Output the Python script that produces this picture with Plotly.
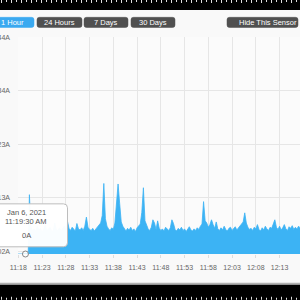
import plotly.graph_objects as go
import pandas as pd

# ---------------- data ----------------
lead_times = ["2021-01-06 11:17:50", "2021-01-06 11:18:40",
              "2021-01-06 11:19:30", "2021-01-06 11:20:05"]
lead_values = [0, 0, 0, 0]
series_start = "2021-01-06 11:20:20"
amps = [
    1.11, 0.50, 0.44, 0.47, 0.42, 0.52, 0.45, 0.48, 0.41, 0.46,
    0.55, 0.43, 0.47, 0.50, 0.44, 0.42, 0.58, 0.46, 0.44, 0.49,
    0.43, 0.47, 0.52, 0.45, 0.62, 0.48, 0.44, 0.50, 0.46, 0.43,
    0.57, 0.47, 0.45, 0.49, 0.44, 0.52, 0.69, 0.50, 0.46, 0.44,
    0.48, 0.43, 0.47, 0.51, 0.55, 0.58, 0.72, 1.32, 0.66, 0.52,
    0.47, 0.44, 0.49, 0.46, 0.58, 1.05, 1.31, 0.95, 0.60, 0.52,
    0.46, 0.43, 0.48, 0.45, 0.50, 0.44, 0.47, 0.42, 0.49, 0.52,
    0.56, 0.78, 1.24, 0.62, 0.53, 0.47, 0.44, 0.50, 0.64, 0.58,
    0.46, 0.62, 0.48, 0.44, 0.47, 0.43, 0.50, 0.46, 0.44, 0.49,
    0.64, 0.57, 0.46, 0.43, 0.48, 0.45, 0.50, 0.44, 0.47, 0.42,
    0.48, 0.51, 0.45, 0.43, 0.47, 0.44, 0.49, 0.46, 0.52, 0.56,
    0.98, 0.62, 0.58, 0.50, 0.55, 0.64, 0.55, 0.48, 0.60, 0.47,
    0.44, 0.49, 0.45, 0.52, 0.46, 0.43, 0.48, 0.50, 0.44, 0.47,
    0.51, 0.45, 0.49, 0.53, 0.56, 0.60, 0.77, 0.58, 0.50, 0.46,
    0.48, 0.44, 0.50, 0.47, 0.55, 0.46, 0.43, 0.49, 0.45, 0.52,
    0.47, 0.44, 0.50, 0.48, 0.56, 0.64, 0.50, 0.46, 0.52, 0.45,
    0.49, 0.55, 0.47, 0.44, 0.51, 0.48, 0.53, 0.46, 0.50, 0.47,
    0.52, 0.49,
]
x_tick_times = ["2021-01-06 11:18", "2021-01-06 11:23", "2021-01-06 11:28",
                "2021-01-06 11:33", "2021-01-06 11:38", "2021-01-06 11:43",
                "2021-01-06 11:48", "2021-01-06 11:53", "2021-01-06 11:58",
                "2021-01-06 12:03", "2021-01-06 12:08", "2021-01-06 12:13"]
x_tick_text = ["11:18", "11:23", "11:28", "11:33", "11:38", "11:43",
               "11:48", "11:53", "11:58", "12:03", "12:08", "12:13"]
y_tick_vals = [0.05, 1.05, 2.05, 3.05, 4.05]
y_tick_text = ["0.002A", "0.013A", "0.023A", "0.034A", "0.044A"]
buttons = ["1 Hour", "24 Hours", "7 Days", "30 Days", "Hide This Sensor"]
hover_time = "2021-01-06 11:19:30"
hover_value = 0
hover_lines = ["Jan 6, 2021", "11:19:30 AM", "0A"]

times = list(pd.to_datetime(lead_times)) + list(
    pd.date_range(series_start, periods=len(amps), freq="20s"))
values = lead_values + amps

# ---------------- geometry helpers ----------------
W, H = 300, 300
L, R, T, B = 18, 0, 37, 45.8
PW, PH = W - L - R, H - T - B
FONT = "Liberation Sans, Arial, sans-serif"
BLUE = "#3cb3f4"


def px(x, y):
    return (x - L) / PW, (H - B - y) / PH


def rrect(x0, y0, x1, y1, r):
    a0, b0 = px(x0, y0)
    a1, b1 = px(x1, y1)
    rx, ry = r / PW, r / PH
    return (f"M{a0+rx},{b0} L{a1-rx},{b0} Q{a1},{b0} {a1},{b0-ry} "
            f"L{a1},{b1+ry} Q{a1},{b1} {a1-rx},{b1} L{a0+rx},{b1} "
            f"Q{a0},{b1} {a0},{b1+ry} L{a0},{b0-ry} Q{a0},{b0} {a0+rx},{b0} Z")


def rect(x0, y0, x1, y1, color):
    a0, b0 = px(x0, y0)
    a1, b1 = px(x1, y1)
    return dict(type="rect", xref="paper", yref="paper", x0=a0, x1=a1,
                y0=b1, y1=b0, fillcolor=color, line=dict(width=0),
                layer="above")


fig = go.Figure()
fig.add_trace(go.Scatter(
    x=times, y=values, mode="lines", fill="tozeroy",
    line=dict(color=BLUE, width=0.8), fillcolor=BLUE, hoverinfo="skip"))
fig.add_trace(go.Scatter(
    x=[pd.Timestamp(hover_time)], y=[hover_value], mode="markers",
    marker=dict(size=6, color="rgba(255,255,255,0.6)",
                line=dict(color="#888", width=1)),
    cliponaxis=False, hoverinfo="skip"))

shapes = []
annotations = []

# top black strip with ruler marks
shapes.append(rect(-5, 0, 305, 10, "#000"))
for i in range(61):
    x = 1 + i * 5
    hh = 3 if i % 2 == 0 else 2
    shapes.append(rect(x, 0, x + 1, hh, "#ddd"))
# bottom strip
shapes.append(rect(-5, 283, 305, 285, "#b0b0b0"))
shapes.append(rect(-5, 285, 305, 305, "#000"))
for i in range(61):
    x = 1 + i * 5
    hh = 3 if i % 2 == 0 else 2
    shapes.append(rect(x, 300 - hh, x + 1, 300, "#ddd"))

# buttons
btn_boxes = [(-10, 34), (37, 82), (84, 128), (131, 175), (227, 298)]
btn_cx = [12, 59.5, 106, 153, 268]
for k, (lab, (bx0, bx1), cx) in enumerate(zip(buttons, btn_boxes, btn_cx)):
    col = "#3aa9f0" if k == 0 else "#505050"
    shapes.append(dict(type="path", xref="paper", yref="paper",
                       path=rrect(bx0, 17.3, bx1, 27.5, 2.5),
                       fillcolor=col, line=dict(color=col, width=0.5),
                       layer="above"))
    ax, ay = px(cx, 22.4)
    annotations.append(dict(xref="paper", yref="paper", x=ax, y=ay,
                            text=lab, showarrow=False,
                            font=dict(family=FONT, size=7.5, color="#ffffff"),
                            xanchor="center", yanchor="middle"))

# tooltip
shapes.append(dict(type="path", xref="paper", yref="paper",
                   path=rrect(-16, 204, 67.5, 247, 4),
                   fillcolor="rgba(255,255,255,0.97)",
                   line=dict(color="#bdbdbd", width=1), layer="above"))
for txt, ty in zip(hover_lines, [213, 221.5, 235.7]):
    ax, ay = px(26, ty)
    annotations.append(dict(xref="paper", yref="paper", x=ax, y=ay,
                            text=txt, showarrow=False,
                            font=dict(family=FONT, size=7.5, color="#555"),
                            xanchor="center", yanchor="middle"))

fig.update_layout(
    width=W, height=H,
    margin=dict(l=L, r=R, t=T, b=B, pad=0),
    paper_bgcolor="#f9f9f9", plot_bgcolor="#fbfbfb",
    showlegend=False,
    shapes=shapes, annotations=annotations,
    xaxis=dict(type="date",
               range=["2021-01-06 11:17:56", "2021-01-06 12:17:18"],
               tickvals=pd.to_datetime(x_tick_times), ticktext=x_tick_text,
               showgrid=True, gridcolor="#e6e6e6", gridwidth=1,
               ticks="outside", ticklen=3, tickcolor="#dddddd",
               tickfont=dict(family=FONT, size=7, color="#666"),
               showline=False, zeroline=False, automargin=False,
               ticklabelstandoff=4),
    yaxis=dict(range=[0, 4.06], tickvals=y_tick_vals, ticktext=y_tick_text,
               showgrid=True, gridcolor="#e6e6e6", gridwidth=1,
               ticks="", tickfont=dict(family=FONT, size=7, color="#666"),
               showline=False, zeroline=False, automargin=False,
               ticklabelstandoff=7),
)

fig.write_html("out.html")
